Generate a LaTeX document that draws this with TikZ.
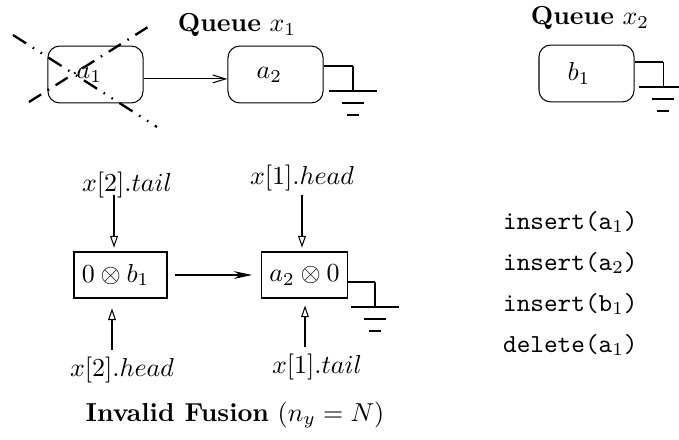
\documentclass[tikz,border=0pt]{standalone}
\usetikzlibrary{arrows.meta}
\newcommand{\opcall}[3]{\texttt{#1(#2}$_{#3}$\texttt{)}}
\tikzset{
  qbox/.style={draw,rounded corners=4.5pt,inner xsep=11pt,text width=14.6pt,align=left,minimum height=21.9pt},
  fbox/.style={draw,minimum height=17.7pt,inner sep=3pt},
  opentip/.style={-{Triangle[open,length=4.5pt,width=3pt]}},
  gnd/.pic={\draw (0,0) -- (0,25) (-24,25) -- (24,25) (-11,37) -- (11,37) (-6,49) -- (6,49);}
}
\begin{document}
\begin{tikzpicture}[x=0.385pt,y=-0.385pt]
  \useasboundingbox (0,0) rectangle (679,439);
  % queue x_1
  \node (q1) at (237,25) {\textbf{Queue} $x_1$};
  \node[qbox] (a1) at (95.5,74.5) {$a_1$};
  \node[qbox] (a2) at (275.5,74.5) {$a_2$};
  \draw[-{Straight Barb[length=5pt,width=3pt]}] ([yshift=-1.7pt]a1.east) -- ([yshift=-1.7pt]a2.west);
  \coordinate (g1) at (353,66);
  \draw (a2.east |- g1) -- (g1) pic {gnd};
  % a_1 crossed out
  \draw[line width=0.9pt,dash pattern=on 6pt off 3pt on 0.6pt off 3pt on 0.6pt off 3pt] (13,35) -- (157,127);
  \draw[line width=0.9pt,dash pattern=on 5.5pt off 3pt on 0.6pt off 3pt] (29,102) -- (148,27);
  % queue x_2
  \node (q2) at (590,18) {\textbf{Queue} $x_2$};
  \node[qbox] (b1) at (586.5,73.5) {$b_1$};
  \coordinate (g2) at (663,62);
  \draw (b1.east |- g2) -- (g2) pic {gnd};
  % fused queue
  \node[fbox,text width=29.8pt,align=left] (f1) at (120.5,275) {$0\otimes b_1$};
  \node[fbox,minimum width=32pt] (f2) at (304.5,275) {$a_2\otimes 0$};
  \draw[-{Stealth[length=7pt,width=3pt]},shorten <=2.7pt,shorten >=3.5pt] (f1) -- (f2);
  \coordinate (g3) at (375,282);
  \draw (f2.east |- g3) -- (g3) pic {gnd};
  % head and tail pointers
  \node (t2) at (127,185) {$x[2].tail$};
  \node (h1) at (302,178) {$x[1].head$};
  \node (h2) at (122,370) {$x[2].head$};
  \node (t1) at (317,367) {$x[1].tail$};
  \coordinate (p1) at (114,195);
  \coordinate (p2) at (302,195);
  \coordinate (p3) at (112,350);
  \coordinate (p4) at (305,347);
  \draw[opentip,shorten >=1.5pt] (p1) -- (p1 |- f1.north);
  \draw[opentip,shorten >=1.5pt] (p2) -- (p2 |- f2.north);
  \draw[opentip,shorten >=3.8pt] (p3) -- (p3 |- f1.south);
  \draw[opentip,shorten >=2.7pt] (p4) -- (p4 |- f2.south);
  \node (title) at (235,415) {\textbf{Invalid Fusion} $(n_y=N)$};
  % operations
  \foreach \f/\a/\k [count=\i] in {insert/a/1,insert/a/2,insert/b/1,delete/a/1}
    \node[anchor=west] (op\i) at (494,181+41*\i) {\opcall{\f}{\a}{\k}};
\end{tikzpicture}
\end{document}
